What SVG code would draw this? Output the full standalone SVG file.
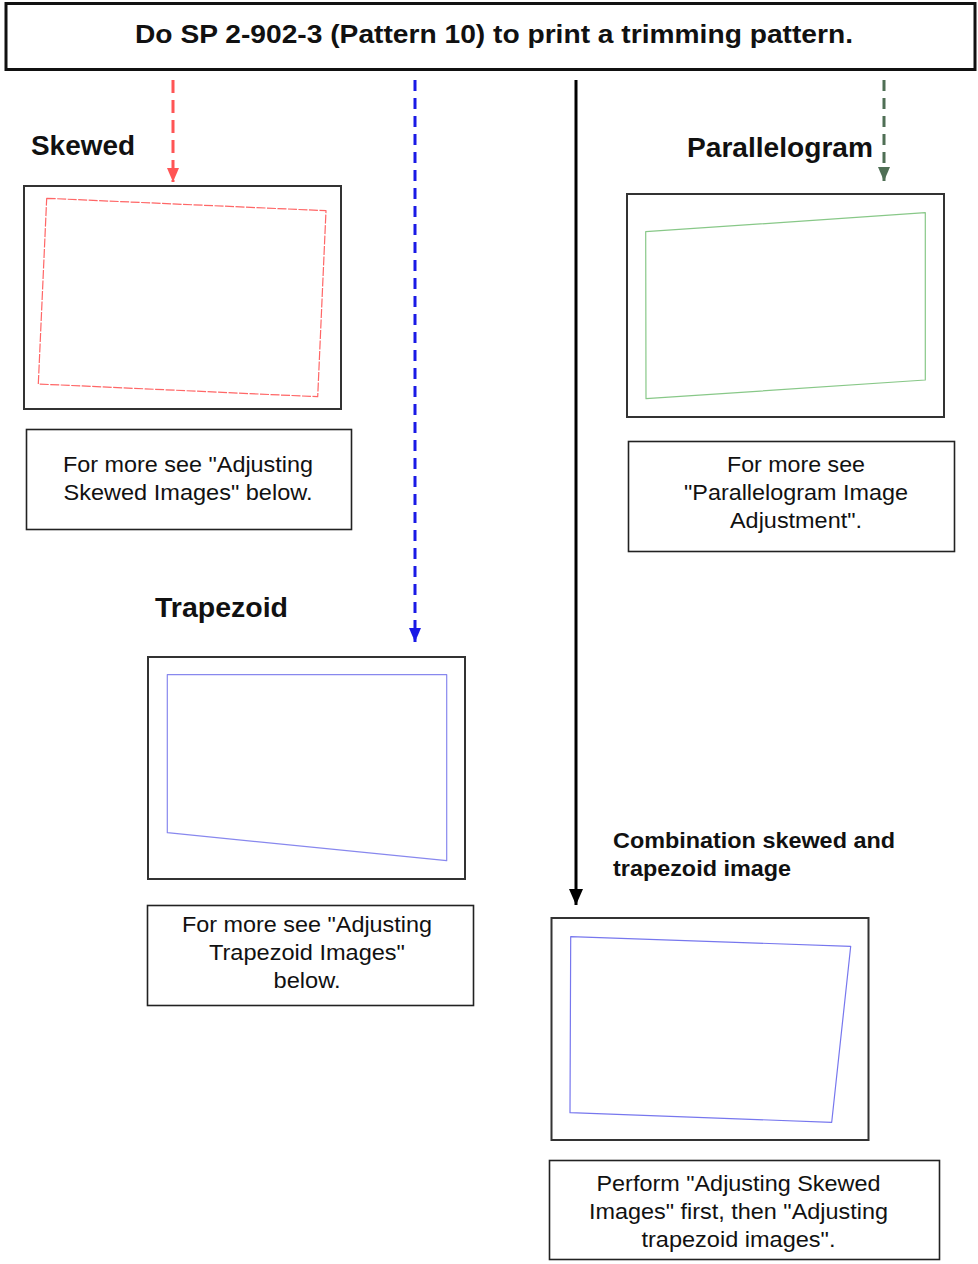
<svg xmlns="http://www.w3.org/2000/svg" width="978" height="1264" viewBox="0 0 978 1264">
<defs>
<style>
.frame{fill:#fff;stroke:#333;stroke-width:2}
.tbox{fill:#fff;stroke:#222;stroke-width:1.6}
.body{font-family:"Liberation Sans",Arial,sans-serif;font-size:22px;fill:#111;text-anchor:middle}
.lbl{font-family:"Liberation Sans",Arial,sans-serif;font-size:27px;font-weight:bold;fill:#111}
.lbl2{font-family:"Liberation Sans",Arial,sans-serif;font-size:22px;font-weight:bold;fill:#111}
.quad{fill:none;stroke-width:1.2;stroke-linejoin:round}
</style>
<marker id="ahR" markerWidth="14" markerHeight="12" refX="14" refY="6" orient="auto" markerUnits="userSpaceOnUse" viewBox="0 0 14 12"><path d="M0,0 L14,6 L0,12 Z" fill="#ff5555"/></marker>
<marker id="ahB" markerWidth="14" markerHeight="12" refX="14" refY="6" orient="auto" markerUnits="userSpaceOnUse" viewBox="0 0 14 12"><path d="M0,0 L14,6 L0,12 Z" fill="#1a1ae6"/></marker>
<marker id="ahG" markerWidth="14" markerHeight="12" refX="14" refY="6" orient="auto" markerUnits="userSpaceOnUse" viewBox="0 0 14 12"><path d="M0,0 L14,6 L0,12 Z" fill="#4f6f55"/></marker>
<marker id="ahK" markerWidth="16" markerHeight="14" refX="16" refY="7" orient="auto" markerUnits="userSpaceOnUse" viewBox="0 0 16 14"><path d="M0,0 L16,7 L0,14 Z" fill="#000"/></marker>
</defs>
<rect width="978" height="1264" fill="#fff"/>

<g id="title">
<rect x="6" y="3.5" width="969" height="66" fill="#fff" stroke="#111" stroke-width="3"/>
<text x="494" y="43" font-family="Liberation Sans,Arial,sans-serif" font-size="25" font-weight="bold" fill="#111" text-anchor="middle" textLength="718" lengthAdjust="spacingAndGlyphs">Do SP 2-902-3 (Pattern 10) to print a trimming pattern.</text>
</g>

<g id="connectors">
<line x1="173" y1="80" x2="173" y2="182" stroke="#ff5555" stroke-width="3" stroke-dasharray="13,7" marker-end="url(#ahR)"/>
<line x1="415" y1="80" x2="415" y2="642" stroke="#1a1ae6" stroke-width="3" stroke-dasharray="11,7" marker-end="url(#ahB)"/>
<line x1="576" y1="80" x2="576" y2="905" stroke="#000" stroke-width="3" marker-end="url(#ahK)"/>
<line x1="884" y1="80" x2="884" y2="181" stroke="#4f6f55" stroke-width="3" stroke-dasharray="11,7" marker-end="url(#ahG)"/>
</g>

<g id="skewed">
<text class="lbl" x="31" y="155" textLength="104" lengthAdjust="spacingAndGlyphs">Skewed</text>
<rect class="frame" x="24" y="186" width="317" height="223"/>
<polygon class="quad" points="46.7,198.3 326,210.7 317.7,396.7 38.3,384" stroke="#ff6666" stroke-dasharray="9,1.5"/>
</g>
<g id="skewed-note">
<rect class="tbox" x="26.5" y="429.5" width="325" height="100"/>
<text class="body" x="188" y="472" textLength="250" lengthAdjust="spacingAndGlyphs">For more see "Adjusting</text>
<text class="body" x="188" y="500" textLength="249" lengthAdjust="spacingAndGlyphs">Skewed Images" below.</text>
</g>

<g id="parallelogram">
<text class="lbl" x="687" y="157" textLength="186" lengthAdjust="spacingAndGlyphs">Parallelogram</text>
<rect class="frame" x="627" y="194" width="317" height="223"/>
<polygon class="quad" points="645.7,231.7 925.3,212.7 925.3,380 646,398.7" stroke="#88c888"/>
</g>
<g id="parallelogram-note">
<rect class="tbox" x="628.5" y="441.5" width="326" height="110"/>
<text class="body" x="796" y="472" textLength="138" lengthAdjust="spacingAndGlyphs">For more see</text>
<text class="body" x="796" y="500" textLength="224" lengthAdjust="spacingAndGlyphs">"Parallelogram Image</text>
<text class="body" x="796" y="528" textLength="132" lengthAdjust="spacingAndGlyphs">Adjustment".</text>
</g>

<g id="trapezoid">
<text class="lbl" x="155" y="617" textLength="133" lengthAdjust="spacingAndGlyphs">Trapezoid</text>
<rect class="frame" x="148" y="657" width="317" height="222"/>
<polygon class="quad" points="167.3,674.7 446.7,674.7 446.7,860.7 167.3,832.7" stroke="#8888ee"/>
</g>
<g id="trapezoid-note">
<rect class="tbox" x="147.5" y="905.5" width="326" height="100"/>
<text class="body" x="307" y="932" textLength="250" lengthAdjust="spacingAndGlyphs">For more see "Adjusting</text>
<text class="body" x="307" y="960" textLength="196" lengthAdjust="spacingAndGlyphs">Trapezoid Images"</text>
<text class="body" x="307" y="988" textLength="67" lengthAdjust="spacingAndGlyphs">below.</text>
</g>

<g id="combination">
<text class="lbl2" x="613" y="848" textLength="282" lengthAdjust="spacingAndGlyphs">Combination skewed and</text>
<text class="lbl2" x="613" y="876" textLength="178" lengthAdjust="spacingAndGlyphs">trapezoid image</text>
<rect class="frame" x="551.5" y="918" width="317" height="222"/>
<polygon class="quad" points="570.7,936.7 850.7,946.3 831.7,1122.3 570,1112.7" stroke="#7777ee"/>
</g>
<g id="combination-note">
<rect class="tbox" x="549.5" y="1160.5" width="390" height="99"/>
<text class="body" x="738.5" y="1191" textLength="284" lengthAdjust="spacingAndGlyphs">Perform "Adjusting Skewed</text>
<text class="body" x="738.5" y="1219" textLength="299" lengthAdjust="spacingAndGlyphs">Images" first, then "Adjusting</text>
<text class="body" x="738.5" y="1247" textLength="194" lengthAdjust="spacingAndGlyphs">trapezoid images".</text>
</g>
</svg>
